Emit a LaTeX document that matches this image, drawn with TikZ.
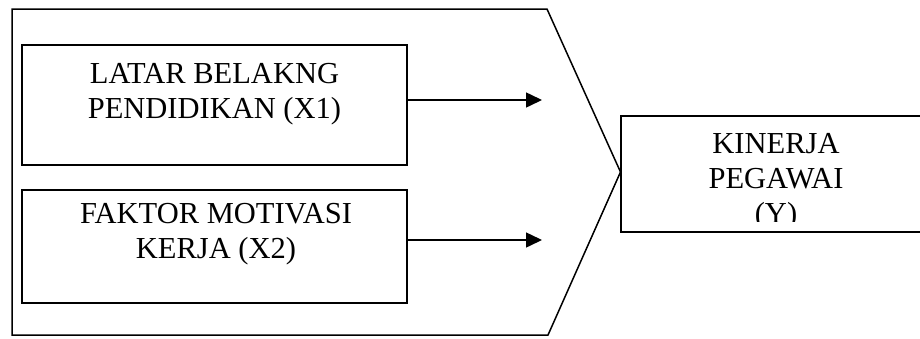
\documentclass[tikz,border=0pt]{standalone}
\usepackage{fontspec}
\setmainfont{Liberation Serif}
\usetikzlibrary{arrows.meta}
\begin{document}
\begin{tikzpicture}[x=1pt,y=-1pt,
  frame/.style={draw=black, line width=1.5pt, line join=miter},
  varbox/.style={draw=black, line width=1.6pt, inner sep=0pt},
  caption/.style={inner sep=0pt, anchor=north, align=center,
    font=\fontsize{30.5}{35}\selectfont},
  arr/.style={line width=1.5pt, -{Triangle[length=16pt,width=15pt]}}]
  \clip (0,0) rectangle (920,338);
  \fill[white] (0,0) rectangle (920,338);

  % chevron-shaped frame around the independent variables
  \coordinate (f1) at (12,9);
  \coordinate (f2) at (547,9);
  \coordinate (f3) at (620.5,172);
  \coordinate (f4) at (548,335);
  \coordinate (f5) at (12,335);
  \draw[frame] (f1) -- (f2) -- (f3) -- (f4) -- (f5) -- cycle;

  % independent variables
  \node[varbox, minimum width=385pt, minimum height=120pt] (x1) at (214.5,105) {};
  \node[caption] (x1t) at (214.5,63) {LATAR BELAKNG\\PENDIDIKAN (X1)};

  \node[varbox, minimum width=385pt, minimum height=113pt] (x2) at (214.5,246.5) {};
  \node[caption] (x2t) at (216,203) {FAKTOR MOTIVASI\\KERJA (X2)};

  % dependent variable
  \node[varbox, minimum width=310pt, minimum height=116pt] (y) at (776,174) {};
  \begin{scope}
    \clip (620,116) rectangle (920,221);
    \node[caption] (yt) at (776,133) {KINERJA\\PEGAWAI\\(Y)};
  \end{scope}

  % influence arrows
  \coordinate (a1) at (542,100);
  \coordinate (a2) at (542,240);
  \draw[arr] (x1.east |- a1) -- (a1);
  \draw[arr] (x2.east |- a2) -- (a2);
\end{tikzpicture}
\end{document}
